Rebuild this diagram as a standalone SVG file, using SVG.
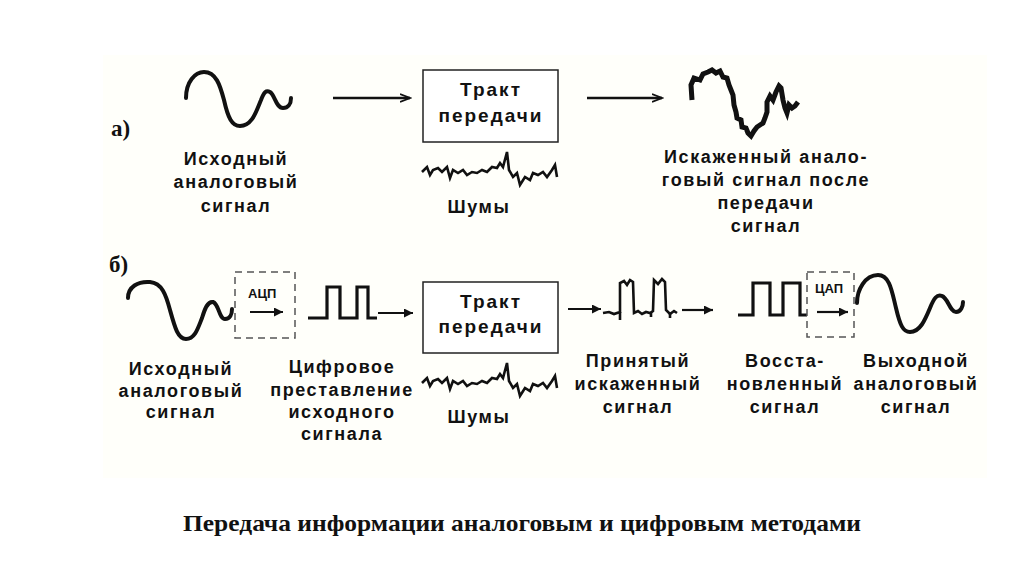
<svg xmlns="http://www.w3.org/2000/svg" width="1024" height="574" viewBox="0 0 1024 574">
  <defs>
    <style>
      .lbl{font-family:"Liberation Sans",Arial,sans-serif;font-weight:bold;font-size:18px;letter-spacing:1.6px;text-anchor:middle;fill:#111}
      .box-t{font-family:"Liberation Sans",Arial,sans-serif;font-weight:bold;font-size:19px;letter-spacing:2px;text-anchor:middle;fill:#111}
      .tag{font-family:"Liberation Serif","Times New Roman",serif;font-weight:bold;font-size:23px;fill:#111}
      .small{font-family:"Liberation Sans",Arial,sans-serif;font-weight:bold;font-size:13px;fill:#111}
      .wave{fill:none;stroke:#111;stroke-width:4;stroke-linecap:round;stroke-linejoin:round}
      .jag{fill:none;stroke:#111;stroke-width:5;stroke-linejoin:miter;stroke-linecap:butt}
      .noise{fill:none;stroke:#111;stroke-width:2.6;stroke-linejoin:miter}
      .pulse{fill:none;stroke:#111;stroke-width:3.2;stroke-linejoin:miter}
      .box{fill:#fff;stroke:#222;stroke-width:1.5}
      .dash{fill:none;stroke:#555;stroke-width:1.5;stroke-dasharray:7 5}
      .arr-open{fill:none;stroke:#111;stroke-width:2.4;marker-end:url(#openHead)}
      .arr{fill:none;stroke:#111;stroke-width:2.2;marker-end:url(#solidHead)}
    </style>
    <marker id="openHead" markerWidth="12" markerHeight="10" refX="10" refY="5" orient="auto" markerUnits="userSpaceOnUse">
      <path d="M0,1 L10,5 L0,9" fill="none" stroke="#111" stroke-width="1.8"/>
    </marker>
    <marker id="solidHead" markerWidth="10" markerHeight="9" refX="9" refY="4.5" orient="auto" markerUnits="userSpaceOnUse">
      <path d="M0,0 L9,4.5 L0,9 Z" fill="#111"/>
    </marker>
    <path id="noiseShape" d="M422,172 L427,167 L430,175 L433,170 L438,168 L442,172 L447,167 L450,178 L453,170 L458,173 L463,170 L467,175 L472,172 L477,173 L482,170 L487,172 L492,167 L497,168 L500,163 L503,167 L507,152 L509,170 L513,177 L517,173 L520,185 L525,177 L530,180 L533,173 L538,175 L543,172 L547,177 L552,170 L555,165 L557,177"/>
  </defs>

  <rect x="0" y="0" width="1024" height="574" fill="#ffffff"/>
  <rect x="103" y="55" width="884" height="423" fill="#fffffa"/>

  <!-- Row a -->
  <g id="label-a"><text class="tag" x="111" y="136">а)</text></g>

  <g id="a-source">
    <path class="wave" d="M186,98 C186,82 195,72 204,72 C216,72 220,85 224,100 C228,118 232,126 240,126 C252,126 256,112 261,100 C264,92 266,90 270,92 C275,95 276,108 283,108 C288,108 291,104 291,98"/>
    <text class="lbl" x="236" y="165">Исходный</text>
    <text class="lbl" x="236" y="188">аналоговый</text>
    <text class="lbl" x="236" y="212">сигнал</text>
  </g>

  <g id="a-channel">
    <rect class="box" x="423" y="70" width="135" height="72"/>
    <text class="box-t" x="491" y="96">Тракт</text>
    <text class="box-t" x="491" y="122">передачи</text>
    <use href="#noiseShape" class="noise"/>
    <text class="lbl" x="479" y="213">Шумы</text>
  </g>

  <g id="a-output">
    <path class="jag" d="M692,100 L691,85 L694,78 L700,80 L703,74 L708,72 L712,70 L716,73 L720,71 L723,77 L727,78 L729,85 L731,90 L733,95 L734,105 L736,112 L737,118 L741,120 L742,127 L746,128 L748,133 L751,136 L754,131 L757,127 L760,125 L763,123 L765,118 L767,112 L767,102 L770,96 L773,100 L776,92 L779,86 L781,88 L783,100 L785,108 L787,113 L789,105 L792,108 L795,106 L798,102"/>
    <text class="lbl" x="766" y="163">Искаженный анало-</text>
    <text class="lbl" x="766" y="186">говый сигнал после</text>
    <text class="lbl" x="766" y="209">передачи</text>
    <text class="lbl" x="766" y="232">сигнал</text>
  </g>

  <!-- Row b -->
  <g id="label-b"><text class="tag" x="109" y="272">б)</text></g>

  <g id="b-source">
    <path class="wave" d="M128,298 C128,287 138,281 150,282 C162,283 166,295 170,310 C175,328 178,339 186,339 C195,339 198,328 202,318 C205,308 208,301 213,302 C219,304 219,319 225,319 C230,319 232,314 232,309"/>
    <text class="lbl" x="181" y="375">Исходный</text>
    <text class="lbl" x="181" y="397">аналоговый</text>
    <text class="lbl" x="181" y="418">сигнал</text>
  </g>

  <g id="b-adc">
    <rect class="dash" x="235" y="272" width="60" height="66"/>
    <text class="small" x="248" y="298">АЦП</text>
  </g>

  <g id="b-digital">
    <path class="pulse" d="M308,318 H327 V287 H340 V318 H357 V287 H368 V318 H377"/>
    <text class="lbl" x="342" y="373">Цифровое</text>
    <text class="lbl" x="342" y="396">преставление</text>
    <text class="lbl" x="342" y="418">исходного</text>
    <text class="lbl" x="342" y="440">сигнала</text>
  </g>

  <g id="b-channel">
    <rect class="box" x="423" y="282" width="135" height="71"/>
    <text class="box-t" x="491" y="308">Тракт</text>
    <text class="box-t" x="491" y="333">передачи</text>
    <use href="#noiseShape" class="noise" transform="translate(0,211)"/>
    <text class="lbl" x="479" y="423">Шумы</text>
  </g>

  <g id="b-received">
    <path class="noise" stroke-width="3.2" d="M603,313 L609,312 L614,314 L620,312 L620,283 L624,281 L627,285 L630,280 L633,282 L634,313 L638,311 L642,314 L646,312 L650,313 L653,311 L654,280 L658,284 L662,279 L665,282 L666,310 L670,314 L674,311 L677,313"/>
    <path class="noise" stroke-width="2" d="M620,312 V320 M651,312 V317 M670,313 V318"/>
    <text class="lbl" x="638" y="367">Принятый</text>
    <text class="lbl" x="638" y="390">искаженный</text>
    <text class="lbl" x="638" y="413">сигнал</text>
  </g>

  <g id="b-restored">
    <path class="pulse" d="M738,315 H753 V283 H770 V315 H783 V283 H800 V315 H807"/>
    <text class="lbl" x="785" y="367">Восста-</text>
    <text class="lbl" x="785" y="390">новленный</text>
    <text class="lbl" x="785" y="413">сигнал</text>
  </g>

  <g id="b-dac">
    <rect class="dash" x="807" y="272" width="47" height="65"/>
    <text class="small" x="815" y="293">ЦАП</text>
  </g>

  <g id="b-output">
    <path class="wave" d="M857,303 C857,290 865,275 878,275 C890,275 892,292 896,308 C900,325 903,332 910,332 C920,332 925,320 930,308 C934,298 937,294 942,296 C948,298 950,312 956,312 C961,312 963,306 963,302"/>
    <text class="lbl" x="916" y="367">Выходной</text>
    <text class="lbl" x="916" y="390">аналоговый</text>
    <text class="lbl" x="916" y="413">сигнал</text>
  </g>

  <g id="connectors">
    <line class="arr-open" x1="333" y1="98" x2="410" y2="98"/>
    <line class="arr-open" x1="587" y1="98" x2="662" y2="98"/>
    <line class="arr" x1="250" y1="312" x2="283" y2="312"/>
    <line class="arr" x1="378" y1="313" x2="413" y2="313"/>
    <line class="arr" x1="568" y1="309" x2="601" y2="309"/>
    <line class="arr" x1="682" y1="310" x2="713" y2="310"/>
    <line class="arr" x1="817" y1="312" x2="848" y2="312"/>
  </g>

  <g id="caption">
    <text x="183" y="531" font-family="Liberation Serif, 'Times New Roman', serif" font-weight="bold" font-size="24" fill="#111" textLength="678" lengthAdjust="spacingAndGlyphs">Передача информации аналоговым и цифровым методами</text>
  </g>
</svg>
